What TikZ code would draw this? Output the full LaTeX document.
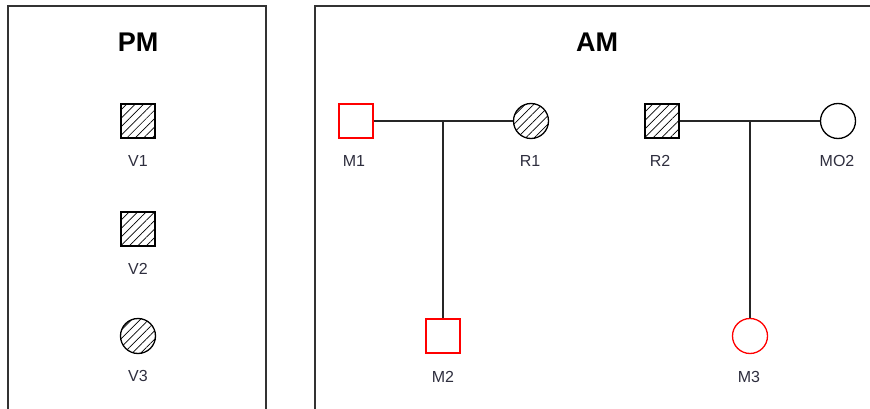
\documentclass[tikz,border=0pt]{standalone}
\usepackage{fontspec}
\setmainfont{Liberation Sans}
\usetikzlibrary{patterns.meta}
\definecolor{lbl}{HTML}{2E2E3E}
\definecolor{frame}{HTML}{333333}
\begin{document}
\begin{tikzpicture}[x=1pt,y=-1pt,
  panel/.style={draw=frame,line width=1.5pt},
  ttl/.style={font=\fontsize{27}{30}\selectfont\bfseries,text=black},
  lab/.style={font=\fontsize{16}{18}\selectfont,text=lbl},
  hatch/.style={pattern={Lines[angle=45,distance=6pt,line width=0.7pt]}},
  sq/.style={draw,line width=1.3pt,minimum size=34pt,inner sep=0pt,rectangle},
  cir/.style={draw,line width=1.3pt,minimum size=35pt,inner sep=0pt,circle},
  link/.style={draw=black!85,line width=1.3pt}]
\useasboundingbox (0,0) rectangle (870,409);
% panels
\draw[panel] (8,420) -- (8,6) -- (266,6) -- (266,420);
\draw[panel] (315,420) -- (315,6) -- (880,6);
\node[ttl] (pm) at (138,42) {PM};
\node[ttl] (am) at (597,42) {AM};
% PM
\node[sq,hatch] (v1) at (138,121) {};
\node[lab] (v1l) at (138,161) {V1};
\node[sq,hatch] (v2) at (138,229) {};
\node[lab] (v2l) at (138,269) {V2};
\node[cir,hatch] (v3) at (138,336) {};
\node[lab] (v3l) at (138,376) {V3};
% AM
\node[sq,draw=red] (m1) at (356,121) {};
\node[lab] (m1l) at (354,161) {M1};
\node[cir,hatch] (r1) at (531,121) {};
\node[lab] (r1l) at (530,161) {R1};
\node[sq,draw=red] (m2) at (443,336) {};
\node[lab] (m2l) at (443,377) {M2};
\node[sq,hatch] (r2) at (662,121) {};
\node[lab] (r2l) at (660,161) {R2};
\node[cir] (mo2) at (838,121) {};
\node[lab] (mo2l) at (837,161) {MO2};
\node[cir,draw=red] (m3) at (750,336) {};
\node[lab] (m3l) at (749,377) {M3};
\coordinate (j1) at (443,121);
\coordinate (j2) at (750,121);
\draw[link] (m1.east) -- (r1.west);
\draw[link] (j1) -- (m2.north);
\draw[link] (r2.east) -- (mo2.west);
\draw[link] (j2) -- (m3.north);
\end{tikzpicture}
\end{document}
